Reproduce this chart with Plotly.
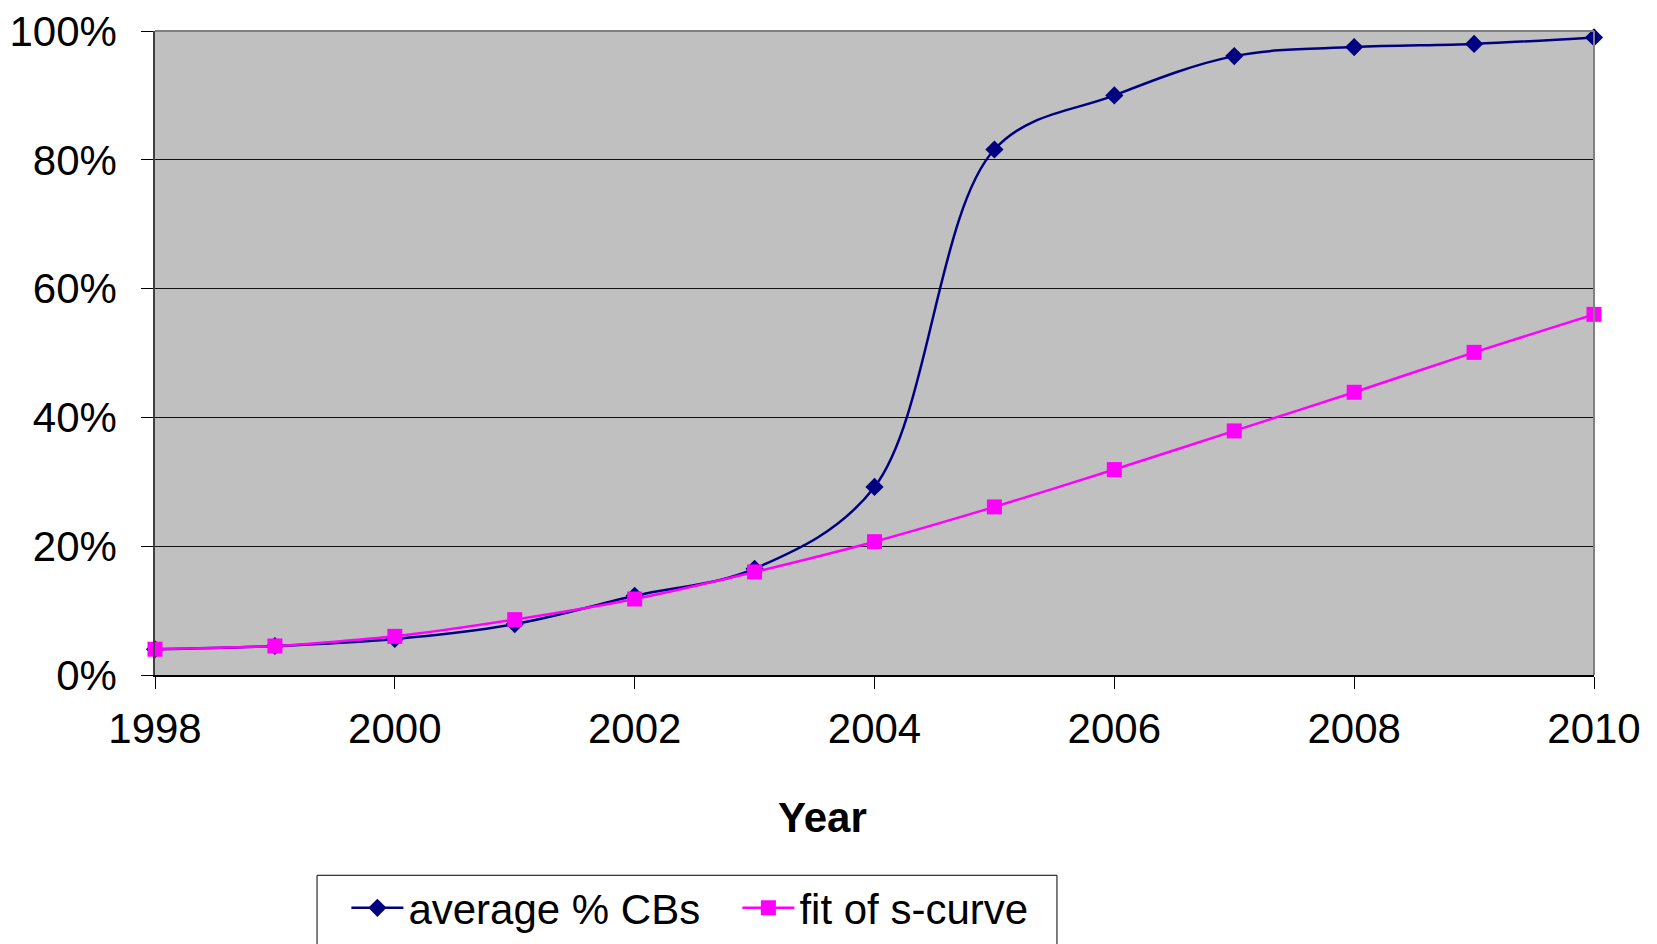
import plotly.graph_objects as go

years = [1998, 1999, 2000, 2001, 2002, 2003, 2004, 2005, 2006, 2007, 2008, 2009, 2010]
avg_cbs = [0.040, 0.045, 0.056, 0.079, 0.123, 0.165, 0.292, 0.816, 0.900, 0.961, 0.975, 0.980, 0.990]
s_curve_fit = [0.040, 0.045, 0.060, 0.086, 0.118, 0.160, 0.207, 0.261, 0.319, 0.379, 0.439, 0.501, 0.560]
x_ticks = [1998, 2000, 2002, 2004, 2006, 2008, 2010]
y_ticks = [0, 0.2, 0.4, 0.6, 0.8, 1.0]

FONT = "Arial, 'Liberation Sans', sans-serif"

fig = go.Figure()
fig.add_trace(go.Scatter(
    x=years, y=avg_cbs, name="average % CBs", mode="lines+markers",
    line=dict(color="#000080", width=2.5, shape="spline", smoothing=1.0),
    marker=dict(symbol="diamond", size=14, color="#000080"),
    cliponaxis=False,
))
fig.add_trace(go.Scatter(
    x=years, y=s_curve_fit, name="fit of s-curve", mode="lines+markers",
    line=dict(color="#FF00FF", width=2.5, shape="spline", smoothing=0.6),
    marker=dict(symbol="square", size=15, color="#FF00FF"),
    cliponaxis=False,
))

fig.update_layout(
    template="none",
    width=1657, height=944,
    margin=dict(l=147, r=71, t=23, b=277, autoexpand=False),
    paper_bgcolor="white", plot_bgcolor="#C0C0C0",
    font=dict(family=FONT, size=42, color="black"),
    showlegend=True,
    legend=dict(
        orientation="h", x=0.133, y=-0.309, xanchor="left", yanchor="top",
        borderwidth=0, bgcolor="rgba(0,0,0,0)",
        font=dict(family=FONT, size=42), itemwidth=52,
        entrywidth=324,
    ),
    xaxis=dict(
        range=[1998, 2010], tickvals=x_ticks, ticktext=[str(v) for v in x_ticks],
        showgrid=False, zeroline=False, showline=True, linecolor="black", linewidth=1.5,
        ticks="outside", ticklen=12, tickcolor="black", tickwidth=1,
        tickfont=dict(family=FONT, size=42), automargin=False, ticklabelstandoff=4,
        ticklabeloverflow="allow",
    ),
    yaxis=dict(
        range=[0, 1], tickvals=y_ticks, tickformat=".0%",
        showgrid=True, gridcolor="#111111", gridwidth=1,
        zeroline=False, showline=True, linecolor="#404040", linewidth=1.5,
        ticks="outside", ticklen=12, tickcolor="black", tickwidth=1,
        tickfont=dict(family=FONT, size=42), automargin=False, ticklabelstandoff=16,
        ticklabeloverflow="allow",
    ),
    annotations=[dict(
        text="<b>Year</b>", xref="paper", yref="paper", x=0.464, y=-0.222,
        xanchor="center", yanchor="middle", showarrow=False,
        font=dict(family=FONT, size=42, color="black"),
    )],
    shapes=[
        dict(type="line", xref="paper", yref="paper", x0=0, x1=1, y0=1, y1=1,
             line=dict(color="#808080", width=2), layer="above"),
        dict(type="line", xref="paper", yref="paper", x0=1, x1=1, y0=0, y1=1,
             line=dict(color="#808080", width=2), layer="above"),
        dict(type="rect", xref="paper", yref="paper", x0=0.1126, x1=0.6268,
             y0=-0.311, y1=-0.45, line=dict(color="black", width=1),
             fillcolor="rgba(0,0,0,0)", layer="above"),
    ],
)

fig.write_html("out.html")
